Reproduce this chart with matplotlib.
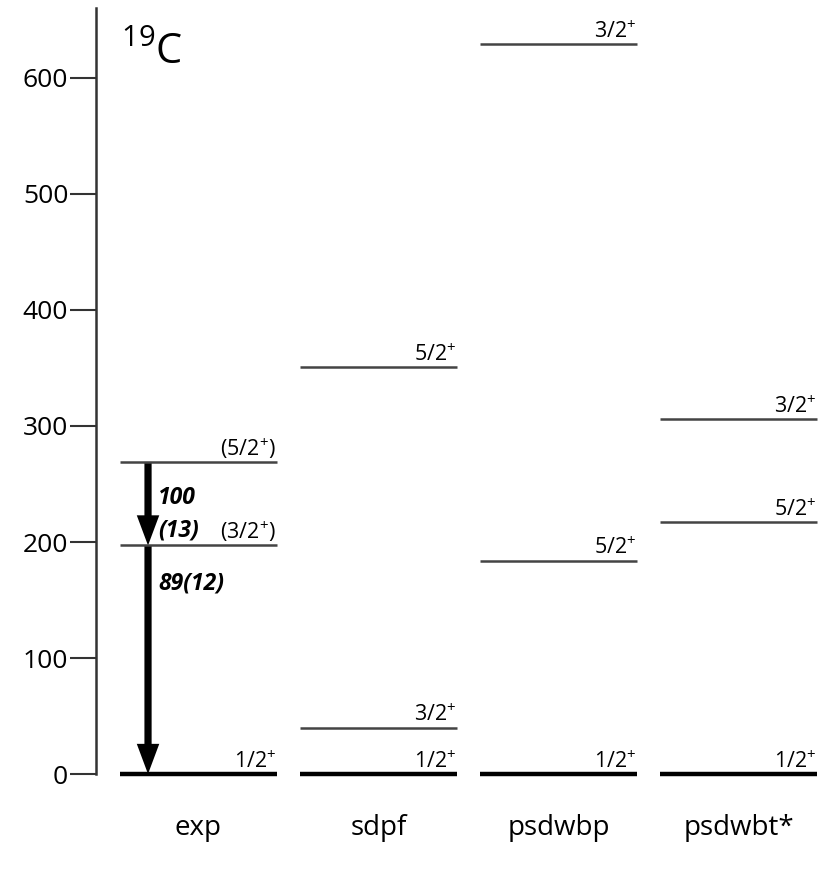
import numpy as np
import matplotlib.pyplot as plt

plt.rcParams['font.family'] = ['Open Sans', 'DejaVu Sans']
plt.rcParams['mathtext.default'] = 'regular'

# level energies (keV) per calculation column
models = ['exp', 'sdpf', 'psdwbp', 'psdwbt*']
exp_E = [0, 197, 269]
exp_J = ['1/2$^{+}$', '(3/2$^{+}$)', '(5/2$^{+}$)']
sdpf_E = [0, 40, 351]
sdpf_J = ['1/2$^{+}$', '3/2$^{+}$', '5/2$^{+}$']
psdwbp_E = [0, 184, 629]
psdwbp_J = ['1/2$^{+}$', '5/2$^{+}$', '3/2$^{+}$']
psdwbt_E = [0, 217, 306]
psdwbt_J = ['1/2$^{+}$', '5/2$^{+}$', '3/2$^{+}$']

# gamma transitions in exp column: (from, to), then intensity labels
gammas = [(269, 197), (197, 0)]
gamma_labels = [('100', 238), ('(13)', 210), ('89(12)', 164)]

levels = [(exp_E, exp_J), (sdpf_E, sdpf_J), (psdwbp_E, psdwbp_J), (psdwbt_E, psdwbt_J)]

fig = plt.figure(figsize=(8.18, 8.81), dpi=100)
ax = fig.add_axes([96 / 818, 0.0951, 1 - 96 / 818, 0.8954])
ax.set_xlim(-0.569, 3.442)
ax.set_ylim(-20, 660)

hw = 0.436
for i, (E, J) in enumerate(levels):
    for e, j in zip(E, J):
        if e == 0:
            ax.plot([i - hw, i + hw], [e, e], color='black', lw=3.2, solid_capstyle='butt')
        else:
            ax.plot([i - hw, i + hw], [e, e], color='#444444', lw=1.8, solid_capstyle='butt')
        ax.text(i + hw - 0.005, e + 1, j, ha='right', va='bottom', fontsize=15.5)

# arrows
ax_x = -0.28
for e1, e2 in gammas:
    ax.arrow(ax_x, e1, 0, e2 - e1, width=0.04, head_width=0.125, head_length=26,
             length_includes_head=True, color='black', lw=0)
for t, y in gamma_labels:
    ax.text(-0.225, y, t, fontsize=16.5, fontweight='bold', fontstyle='italic',
            ha='left', va='center')

ax.text(-0.43, 612, '$^{19}$C', fontsize=30, ha='left', va='baseline')

ax.spines['top'].set_visible(False)
ax.spines['right'].set_visible(False)
ax.spines['bottom'].set_visible(False)
ax.spines['left'].set_bounds(0, 660)
ax.spines['left'].set_color('#333333')
ax.spines['left'].set_linewidth(1.8)
ax.set_yticks([0, 100, 200, 300, 400, 500, 600])
ax.tick_params(axis='y', length=19, width=1.5, color='#333333', labelsize=19, pad=1)
ax.set_xticks(range(4), models)
ax.tick_params(axis='x', length=0, labelsize=20, pad=12)

fig.savefig('out.png', dpi=100)
